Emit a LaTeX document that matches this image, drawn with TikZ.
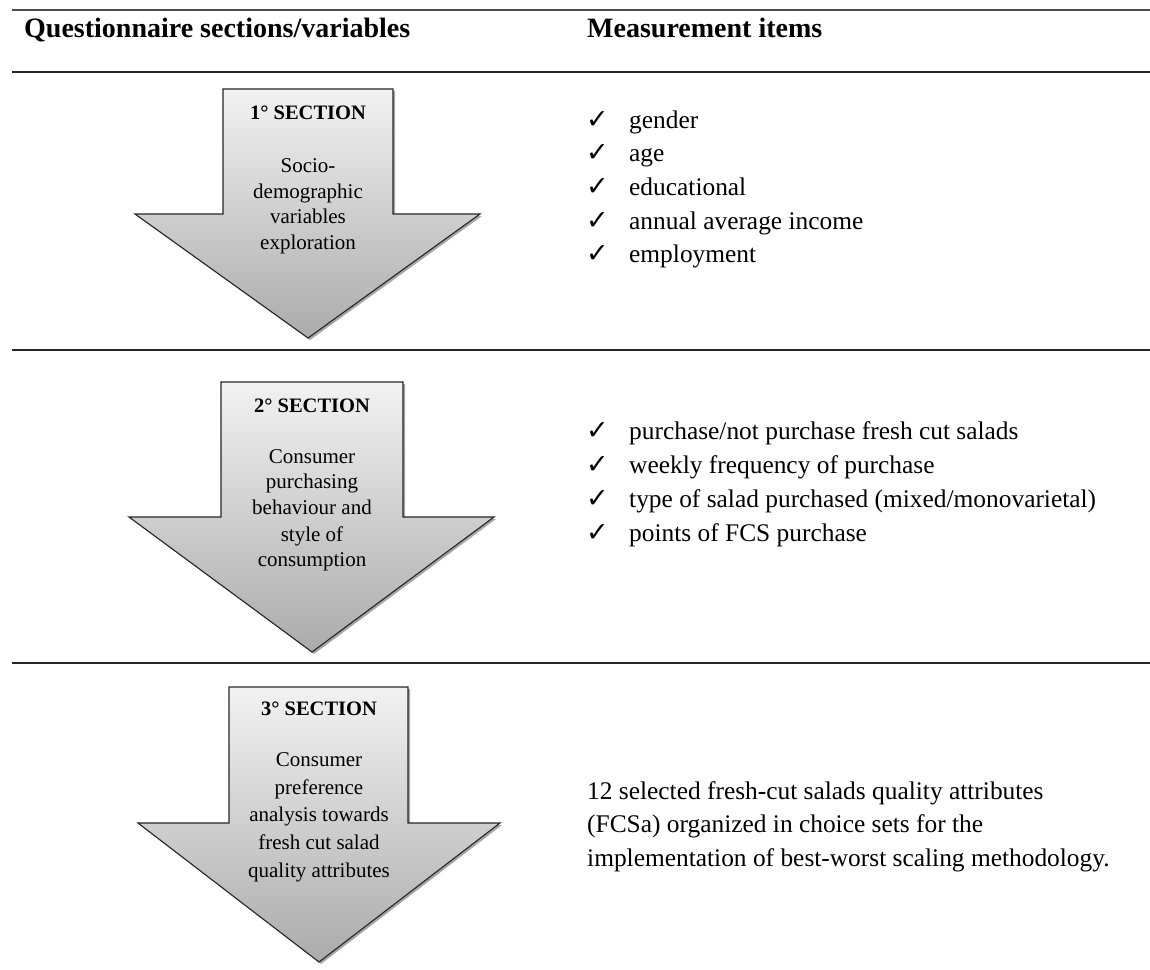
\documentclass[tikz,border=0pt]{standalone}
\usepackage{fontspec}
\setmainfont{Liberation Serif}
\newfontfamily\symfont{DejaVu Sans}
\usetikzlibrary{shadows}
\tikzset{
  rule/.style={line width=1.6pt, draw=black!85},
  toprule/.style={line width=1.2pt, draw=black!70},
  secarrow/.style={draw=black!85, line width=1.1pt, line join=miter,
    top color=black!5, bottom color=black!33,
    drop shadow={shadow xshift=2pt, shadow yshift=-2pt, opacity=0.35, fill=black}},
  hdr/.style={font=\fontsize{28}{30}\selectfont\bfseries, anchor=base west, inner sep=0},
  item/.style={font=\fontsize{25.4}{30}\selectfont, anchor=base west, inner sep=0},
  chk/.style={font=\symfont\fontsize{27}{30}\selectfont, anchor=base west, inner sep=0},
  atitle/.style={font=\fontsize{20.5}{24}\selectfont\bfseries, anchor=base, inner sep=0},
  atext/.style={font=\fontsize{21}{24}\selectfont, anchor=base, inner sep=0},
}
\begin{document}
\begin{tikzpicture}[x=1pt,y=-1pt]
\useasboundingbox (0,0) rectangle (1150,969);
% rules
\coordinate (r0a) at (12,10);  \coordinate (r0b) at (1150,10);
\coordinate (r1a) at (12,72);  \coordinate (r1b) at (1150,72);
\coordinate (r2a) at (12,350); \coordinate (r2b) at (1150,350);
\coordinate (r3a) at (12,663); \coordinate (r3b) at (1150,663);
\draw[toprule] (r0a) -- (r0b);
\draw[rule] (r1a) -- (r1b);
\draw[rule] (r2a) -- (r2b);
\draw[rule] (r3a) -- (r3b);
% header
\node[hdr] (h1) at (24,37) {Questionnaire sections/variables};
\node[hdr] (h2) at (587,37) {Measurement items};
% arrows
\path[secarrow] (223,89) -- (393,89) -- (393,214) -- (480,214) -- (308,338) -- (135,214) -- (223,214) -- cycle;
\path[secarrow] (221,382) -- (403,382) -- (403,517) -- (494,517) -- (312,652) -- (129,517) -- (221,517) -- cycle;
\path[secarrow] (229,687) -- (408,687) -- (408,823) -- (500,823) -- (319,962) -- (138,823) -- (229,823) -- cycle;
% arrow 1 text
\node[atitle] (t1) at (308,119) {1° SECTION};
\node[atext] (t1a) at (308,172) {Socio-};
\node[atext] (t1b) at (308,198) {demographic};
\node[atext] (t1c) at (308,223) {variables};
\node[atext] (t1d) at (308,249) {exploration};
% arrow 2 text
\node[atitle] (t2) at (312,412) {2° SECTION};
\node[atext] (t2a) at (312,463) {Consumer};
\node[atext] (t2b) at (312,488) {purchasing};
\node[atext] (t2c) at (312,514) {behaviour and};
\node[atext] (t2d) at (312,541) {style of};
\node[atext] (t2e) at (312,566) {consumption};
% arrow 3 text
\node[atitle] (t3) at (319,715) {3° SECTION};
\node[atext] (t3a) at (319,766) {Consumer};
\node[atext] (t3b) at (319,794) {preference};
\node[atext] (t3c) at (319,821) {analysis towards};
\node[atext] (t3d) at (319,849) {fresh cut salad};
\node[atext] (t3e) at (319,877) {quality attributes};
% section 1 items
\foreach \y/\t [count=\i] in {128/{gender},161.7/{age},195.4/{educational},229.1/{annual average income},262.8/{employment}}{
  \node[chk] (c1\i) at (586,\y) {✓};
  \node[item] (m1\i) at (629,\y) {\t};
}
% section 2 items
\foreach \y/\t [count=\i] in {439/{purchase/not purchase fresh cut salads},473/{weekly frequency of purchase},507/{type of salad purchased (mixed/monovarietal)},541/{points of FCS purchase}}{
  \node[chk] (c2\i) at (586,\y) {✓};
  \node[item] (m2\i) at (629,\y) {\t};
}
% section 3 text
\node[item] (s3a) at (587,799) {12 selected fresh-cut salads quality attributes};
\node[item] (s3b) at (587,832.5) {(FCSa) organized in choice sets for the};
\node[item] (s3c) at (587,866) {implementation of best-worst scaling methodology.};
\end{tikzpicture}
\end{document}
